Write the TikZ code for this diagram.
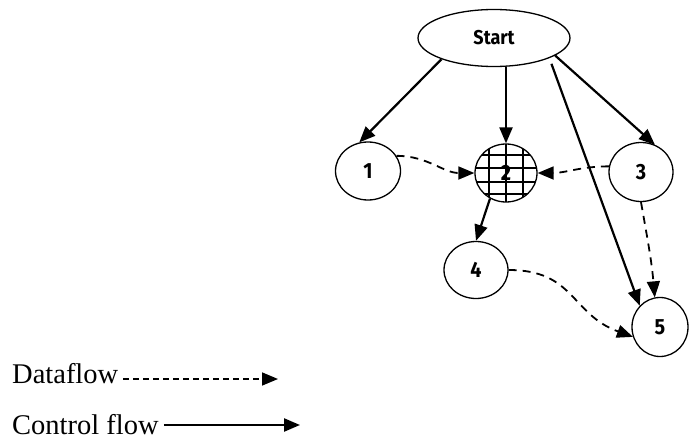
\documentclass[tikz,border=0pt]{standalone}
\usepackage{fontspec}
\setmainfont{Liberation Serif}
\newfontfamily\labelfont{Fira Sans}[FakeStretch=0.9]
\usetikzlibrary{arrows.meta,shapes.geometric}
\begin{document}
\begin{tikzpicture}[x=1pt, y=-1pt,
   blob/.style={draw, ellipse, line width=1.3pt, inner sep=0pt,
     font=\labelfont\bfseries\fontsize{22}{24}\selectfont},
   hatched/.style={path picture={
     \foreach \gx in {-17,0,17}
       \draw[line width=1.1pt] ([xshift=\gx pt]path picture bounding box.north)
         -- ([xshift=\gx pt]path picture bounding box.south);
     \foreach \gy in {18,5,-9,-21}
       \draw[line width=1.1pt] ([yshift=\gy pt]path picture bounding box.west)
         -- ([yshift=\gy pt]path picture bounding box.east);}},
   ctrl/.style={line width=2.2pt, -{Triangle[length=16pt,width=13pt]}},
   data/.style={line width=1.8pt, dash pattern=on 8pt off 6pt,
     -{Triangle[length=16pt,width=13pt]}},
   legend/.style={anchor=base west, inner sep=0pt,
     font=\fontsize{28.5}{32}\selectfont}]
    \useasboundingbox (0,0) rectangle (689,439);
    \path (494,38) node[blob, minimum width=152pt, minimum height=57pt,
      font=\labelfont\bfseries\fontsize{20}{22}\selectfont] (start) {Start};
    \path (368,171) node[blob, minimum width=65pt, minimum height=58pt] (n1) {1};
    \path (506,173) node[blob, hatched, minimum width=62pt, minimum height=58pt] (n2) {2};
    \path (641,172) node[blob, minimum width=64pt, minimum height=59pt] (n3) {3};
    \path (476,270) node[blob, minimum width=64pt, minimum height=57pt] (n4) {4};
    \path (660,327) node[blob, minimum width=56pt, minimum height=59pt] (n5) {5};
    \draw[ctrl] (start.202) -- (n1.107);
    \draw[ctrl] (n2.north |- start.south) -- (n2.north);
    \draw[ctrl] (start.-16) -- (n3.63);
    \draw[ctrl, shorten <=6pt] (start.-20) -- (n5.north west);
    \draw[ctrl] (n2.-122) -- (n4.north);
    \draw[data] (n1.28) to[out=0, in=180] (n2.west);
    \draw[data] (n3.170) to[out=180, in=0] (n2.east);
    \draw[data] (n3.south) to[out=-80, in=95] (n5.100);
    \draw[data] (n4.east) to[out=0, in=160, looseness=1.2] (n5.200);
    \path (12,383) node[legend] (dflow) {Dataflow};
    \path (12,434) node[legend] (cflow) {Control flow};
    \coordinate (dtip) at (278,379);
    \coordinate (ctip) at (300,425);
    \draw[data, line width=1.6pt, dash pattern=on 6pt off 4pt]
      ([xshift=5pt]dflow.east |- dtip) -- (dtip);
    \draw[ctrl, line width=2.4pt] ([xshift=5pt]cflow.east |- ctip) -- (ctip);
   \end{tikzpicture}
\end{document}
